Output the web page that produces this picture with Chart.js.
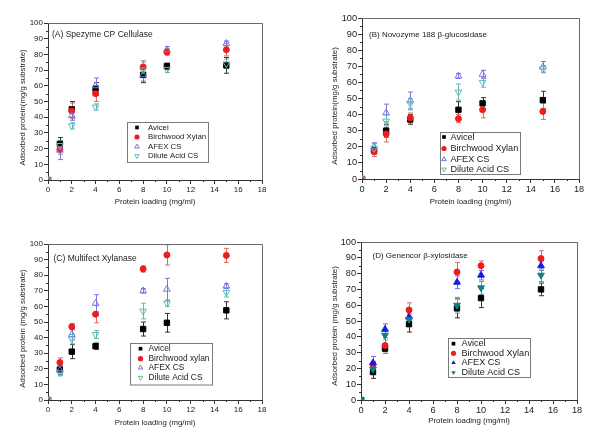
<!DOCTYPE html>
<html>
<head>
<meta charset="utf-8">
<script src="https://cdn.jsdelivr.net/npm/chart.js@4/dist/chart.umd.min.js"></script>
<style>
  body { margin:0; background:#fff; }
  #wrap { position:relative; width:600px; height:442px; }
  canvas { position:absolute; }
</style>
</head>
<body>
<div id="wrap">
  <canvas id="cA" width="300" height="221" style="left:0;top:0"></canvas>
  <canvas id="cB" width="300" height="221" style="left:300px;top:0"></canvas>
  <canvas id="cC" width="300" height="221" style="left:0;top:221px"></canvas>
  <canvas id="cD" width="300" height="221" style="left:300px;top:221px"></canvas>
</div>
<script>
/* ===== dados ===== */
const loading = [0, 1, 2, 4, 8, 10, 15];
const xTicks = [0, 2, 4, 6, 8, 10, 12, 14, 16, 18];
const yTicks = [0, 10, 20, 30, 40, 50, 60, 70, 80, 90, 100];
const seriesNames = ['Avicel', 'Birchwood Xylan', 'AFEX CS', 'Dilute Acid CS'];
const seriesNamesC = ['Avicel', 'Birchwood xylan', 'AFEX CS', 'Dilute Acid CS'];

// (A) Spezyme CP Cellulase
const aAvicel = [0, 23, 45, 58, 67, 72.5, 73];
const aBirch  = [0, 19.5, 44, 55, 72, 81.5, 83];
const aAfex   = [0, 19, 41, 60, 67, 83, 87];
const aDilute = [0, 22, 34.5, 46.5, 70, 70.5, 74];
const aAvicelErr = [0, 4, 5, 4, 5, 2, 5];
const aBirchErr  = [0, 3, 5, 5, 4, 2, 4];
const aAfexErr   = [0, 6, 3, 5, 4, 2, 1.5];
const aDiluteErr = [0, 3, 2, 2, 5, 2, 3];

// (B) Novozyme 188 b-glucosidase
const bAvicel = [0, 17.5, 30, 37, 43, 47, 49];
const bBirch  = [0, 17, 28, 38, 37.5, 43, 42];
const bAfex   = [0, 20, 41, 48.5, 64, 65, 69.5];
const bDilute = [0, 19, 36, 47, 54, 60, 68.5];
const bAvicelErr = [0, 2, 4, 3, 5, 3.5, 5.5];
const bBirchErr  = [0, 3, 5, 3, 2.5, 5, 5];
const bAfexErr   = [0, 2.5, 5.5, 5.5, 1.5, 2.5, 3.5];
const bDiluteErr = [0, 3, 4, 3, 5, 3, 2];

// (C) Multifect Xylanase
const cAvicel = [0, 19.5, 31, 34.5, 45.5, 49.5, 57.5];
const cBirch  = [0, 24, 47, 55, 84, 93, 92.7];
const cAfex   = [0, 19, 42, 62, 70, 71, 73];
const cDilute = [0, 17.5, 39, 42, 57, 62, 69];
const cAvicelErr = [0, 3, 4.5, 2, 4.5, 6, 5.5];
const cBirchErr  = [0, 3, 2, 5.5, 2, 6.5, 4.5];
const cAfexErr   = [0, 3, 3.5, 5.5, 1.5, 7, 1.5];
const cDiluteErr = [0, 2, 3, 2.5, 5, 2, 3];

// (D) Genencor b-xylosidase
const dAvicel = [0, 17.7, 32.5, 48, 58, 64.5, 70];
const dBirch  = [0, 22.5, 34.5, 57, 81, 85, 89.5];
const dAfex   = [0, 23.5, 44.7, 52.5, 74.5, 79, 85];
const dDilute = [0, 19.5, 41, 51, 60, 71, 79];
const dAvicelErr = [0, 4, 3, 5, 6, 6, 4];
const dBirchErr  = [0, 2, 5, 4.5, 6, 3, 5];
const dAfexErr   = [0, 4, 3.5, 2, 4, 3, 3];
const dDiluteErr = [0, 2, 3, 2, 5, 4, 4];

/* ===== helpers ===== */
const FONT = "'Liberation Sans', Arial, sans-serif";

function drawMarker(ctx, style, x, y, r, fill, stroke){
  ctx.save();
  ctx.beginPath();
  if(style === 'rect'){
    const s = r * Math.SQRT1_2;
    ctx.rect(x - s, y - s, 2*s, 2*s);
  } else if(style === 'circle'){
    ctx.arc(x, y, r, 0, Math.PI*2);
  } else {
    const dir = style === 'down' ? -1 : 1;
    ctx.moveTo(x, y - dir*r);
    ctx.lineTo(x - r*0.866, y + dir*r*0.5);
    ctx.lineTo(x + r*0.866, y + dir*r*0.5);
    ctx.closePath();
  }
  if(fill){ ctx.fillStyle = fill; ctx.fill(); }
  if(stroke){ ctx.strokeStyle = stroke; ctx.lineWidth = 1; ctx.stroke(); }
  ctx.restore();
}

function pts(vals){ return loading.map((x, i) => ({x: x, y: vals[i]})); }

/* barras de erro + moldura + ticks menores + legenda + titulos */
const extrasPlugin = {
  id: 'extras',
  beforeDatasetsDraw(chart){
    const {ctx, scales:{x, y}} = chart;
    chart.data.datasets.forEach(ds => {
      ctx.save();
      ctx.strokeStyle = ds.errColor;
      ctx.lineWidth = 1;
      ds.err.forEach((e, i) => {
        if(!e) return;
        const px = Math.round(x.getPixelForValue(loading[i])) + 0.5;
        const y1 = y.getPixelForValue(ds.vals[i] + e);
        const y2 = y.getPixelForValue(ds.vals[i] - e);
        ctx.beginPath();
        ctx.moveTo(px, y1); ctx.lineTo(px, y2);
        ctx.moveTo(px - 2.5, y1); ctx.lineTo(px + 2.5, y1);
        ctx.moveTo(px - 2.5, y2); ctx.lineTo(px + 2.5, y2);
        ctx.stroke();
      });
      ctx.restore();
    });
  },
  afterDraw(chart, args, opts){
    const {ctx, chartArea:a, scales:{x, y}} = chart;
    ctx.save();
    // moldura
    ctx.strokeStyle = '#6a6a6a';
    ctx.lineWidth = 1;
    ctx.beginPath();
    ctx.moveTo(a.left, a.top + 0.5); ctx.lineTo(a.right + 0.5, a.top + 0.5); ctx.lineTo(a.right + 0.5, a.bottom);
    ctx.stroke();
    // ticks menores
    ctx.strokeStyle = '#333';
    ctx.beginPath();
    for(let v = 1; v < 18; v += 2){
      const px = Math.round(x.getPixelForValue(v)) + 0.5;
      ctx.moveTo(px, a.bottom); ctx.lineTo(px, a.bottom + 2);
    }
    for(let v = 5; v < 100; v += 10){
      const py = Math.round(y.getPixelForValue(v)) + 0.5;
      ctx.moveTo(a.left, py); ctx.lineTo(a.left - 2, py);
    }
    ctx.stroke();
    // titulo do eixo y (desenhado aqui para acertar a posicao vertical)
    ctx.save();
    ctx.translate(opts.yTitleX, opts.yTitleY);
    ctx.rotate(-Math.PI / 2);
    ctx.fillStyle = '#222';
    ctx.font = opts.yTitleSize + 'px ' + FONT;
    ctx.textAlign = 'center';
    ctx.textBaseline = 'middle';
    ctx.fillText(opts.yTitle, 0, 0);
    ctx.restore();
    // titulo do painel
    ctx.fillStyle = '#1a1a1a';
    ctx.font = opts.titleSize + 'px ' + FONT;
    ctx.textBaseline = 'middle';
    ctx.fillText(opts.title, opts.titleX, opts.titleY);
    // legenda
    const L = opts.legend;
    ctx.fillStyle = '#fff';
    ctx.fillRect(L.x, L.y, L.w, L.h);
    ctx.strokeStyle = '#7a7a7a';
    ctx.strokeRect(L.x + 0.5, L.y + 0.5, L.w, L.h);
    ctx.font = L.size + 'px ' + FONT;
    chart.data.datasets.forEach((ds, i) => {
      const ry = L.rows[i];
      drawMarker(ctx, ds.mk, L.mx, ry, 2.6, ds.fill, ds.stroke);
      ctx.fillStyle = '#1a1a1a';
      ctx.fillText(ds.label, L.tx, ry);
    });
    ctx.restore();
  }
};

// order: como no Origin, a ultima serie fica por cima
function makeDataset(label, vals, err, style, color, errColor, filled, order){
  const ds = {
    label: label, data: pts(vals), vals: vals, err: err, errColor: errColor, order: order,
    showLine: false, pointBorderWidth: 1, pointRadius: 3.3, pointHoverRadius: 3.3,
    pointBorderColor: color,
    pointBackgroundColor: filled ? color : 'rgba(0,0,0,0)',
    mk: style, fill: filled ? color : null, stroke: filled ? null : color
  };
  if(style === 'rect'){ ds.pointStyle = 'rect'; ds.pointRadius = 3.8; }
  else if(style === 'circle'){ ds.pointStyle = 'circle'; ds.pointRadius = 3; }
  else if(style === 'up'){ ds.pointStyle = 'triangle'; ds.pointRadius = 3.9; }
  else { ds.pointStyle = 'triangle'; ds.pointRotation = 180; ds.pointRadius = 3.9; }
  return ds;
}

function makePanel(id, p){
  const ctx = document.getElementById(id).getContext('2d');
  return new Chart(ctx, {
    type: 'scatter',
    data: { datasets: p.datasets },
    options: {
      responsive: false, animation: false,
      layout: { padding: { left: 0, top: p.top, right: 300 - p.right, bottom: 0 } },
      plugins: {
        legend: { display: false }, tooltip: { enabled: false },
        extras: {
          title: p.title, titleX: p.titleX, titleY: p.titleY, titleSize: p.titleSize, legend: p.legend,
          yTitle: p.yTitle, yTitleX: p.yTitleX, yTitleY: p.yTitleY, yTitleSize: p.axSize
        }
      },
      scales: {
        x: {
          type: 'linear', min: 0, max: 18,
          afterFit: s => { s.height = 221 - p.bottom; },
          afterBuildTicks: s => { s.ticks = xTicks.map(v => ({value: v})); },
          border: { display: true, color: '#333', width: 1 },
          grid: { drawOnChartArea: false, drawTicks: true, tickLength: 4, color: '#333' },
          ticks: { padding: 1, color: '#222', font: { family: FONT, size: p.tickSize } },
          title: { display: true, text: 'Protein loading (mg/ml)', color: '#222',
                   font: { family: FONT, size: p.axSize }, padding: { top: 0, bottom: p.xTitlePad } }
        },
        y: {
          type: 'linear', min: 0, max: 100,
          afterFit: s => { s.width = p.left; },
          afterBuildTicks: s => { s.ticks = yTicks.map(v => ({value: v})); },
          border: { display: true, color: '#333', width: 1 },
          grid: { drawOnChartArea: false, drawTicks: true, tickLength: 4, color: '#333' },
          ticks: { padding: 1, color: '#222', font: { family: FONT, size: p.tickSize } }
        }
      }
    },
    plugins: [extrasPlugin]
  });
}

/* cores */
const BLK = '#000000', RED = '#ee1c1c', RED_E = '#e06a6a';
const BLU_O = '#7777dd', TEAL_O = '#66b8b8';
const BLU_F = '#1a1ae6', TEAL_F = '#0f7f7f';

window.addEventListener('load', () => {
  makePanel('cA', {
    left: 48, right: 262, top: 23, bottom: 180,
    tickSize: 8, axSize: 7.8, xTitlePad: 14.3,
    yTitle: 'Adsorbed protein(mg/g substrate)', yTitleX: 23, yTitleY: 107.5,
    title: '(A) Spezyme CP Cellulase', titleX: 52, titleY: 34.5, titleSize: 8.5,
    legend: { x: 127, y: 122, w: 81, h: 40, mx: 137, tx: 148, size: 7.8, rows: [127.5, 137, 146.7, 156] },
    datasets: [
      makeDataset(seriesNames[0], aAvicel, aAvicelErr, 'rect', BLK, '#333', true, 3),
      makeDataset(seriesNames[1], aBirch, aBirchErr, 'circle', RED, RED_E, true, 2),
      makeDataset(seriesNames[2], aAfex, aAfexErr, 'up', BLU_O, BLU_O, false, 1),
      makeDataset(seriesNames[3], aDilute, aDiluteErr, 'down', TEAL_O, TEAL_O, false, 0)
    ]
  });
  makePanel('cB', {
    left: 62, right: 279, top: 18, bottom: 179,
    tickSize: 9.2, axSize: 7.9, xTitlePad: 14.3,
    yTitle: 'Adsorbed protein(mg/g substrate)', yTitleX: 35, yTitleY: 106,
    title: '(B) Novozyme 188 \u03b2-glucosidase', titleX: 69, titleY: 34.5, titleSize: 8,
    legend: { x: 140, y: 132, w: 80, h: 42, mx: 144, tx: 150.5, size: 9.1, rows: [137, 148.5, 159.3, 169.3] },
    datasets: [
      makeDataset(seriesNames[0], bAvicel, bAvicelErr, 'rect', BLK, '#333', true, 3),
      makeDataset(seriesNames[1], bBirch, bBirchErr, 'circle', RED, RED_E, true, 2),
      makeDataset(seriesNames[2], bAfex, bAfexErr, 'up', BLU_O, BLU_O, false, 1),
      makeDataset(seriesNames[3], bDilute, bDiluteErr, 'down', TEAL_O, TEAL_O, false, 0)
    ]
  });
  makePanel('cC', {
    left: 48, right: 262, top: 23, bottom: 179,
    tickSize: 8, axSize: 7.8, xTitlePad: 14.6,
    yTitle: 'Adsorbed protein (mg/g substrate)', yTitleX: 23, yTitleY: 107.5,
    title: '(C) Multifect Xylanase', titleX: 53.5, titleY: 37.5, titleSize: 8.5,
    legend: { x: 130, y: 122, w: 82, h: 41.5, mx: 140.5, tx: 148.5, size: 8.4, rows: [127.7, 137.7, 146.7, 156.7] },
    datasets: [
      makeDataset(seriesNamesC[0], cAvicel, cAvicelErr, 'rect', BLK, '#333', true, 3),
      makeDataset(seriesNamesC[1], cBirch, cBirchErr, 'circle', RED, RED_E, true, 2),
      makeDataset(seriesNamesC[2], cAfex, cAfexErr, 'up', BLU_O, BLU_O, false, 1),
      makeDataset(seriesNamesC[3], cDilute, cDiluteErr, 'down', TEAL_O, TEAL_O, false, 0)
    ]
  });
  makePanel('cD', {
    left: 61, right: 277, top: 21, bottom: 179,
    tickSize: 9.2, axSize: 7.9, xTitlePad: 16.3,
    yTitle: 'Adsorbed protein (mg/g substrate)', yTitleX: 35, yTitleY: 105,
    title: '(D) Genencor \u03b2-xylosidase', titleX: 72.5, titleY: 34.5, titleSize: 8,
    legend: { x: 148, y: 117, w: 82, h: 39, mx: 153.5, tx: 161.5, size: 9.1, rows: [122.7, 132.3, 141.8, 151.5] },
    datasets: [
      makeDataset(seriesNames[0], dAvicel, dAvicelErr, 'rect', BLK, '#333', true, 3),
      makeDataset(seriesNames[1], dBirch, dBirchErr, 'circle', RED, RED_E, true, 2),
      makeDataset(seriesNames[2], dAfex, dAfexErr, 'up', BLU_F, '#6f6fe8', true, 1),
      makeDataset(seriesNames[3], dDilute, dDiluteErr, 'down', TEAL_F, '#5aa5a5', true, 0)
    ]
  });
});
</script>
</body>
</html>
